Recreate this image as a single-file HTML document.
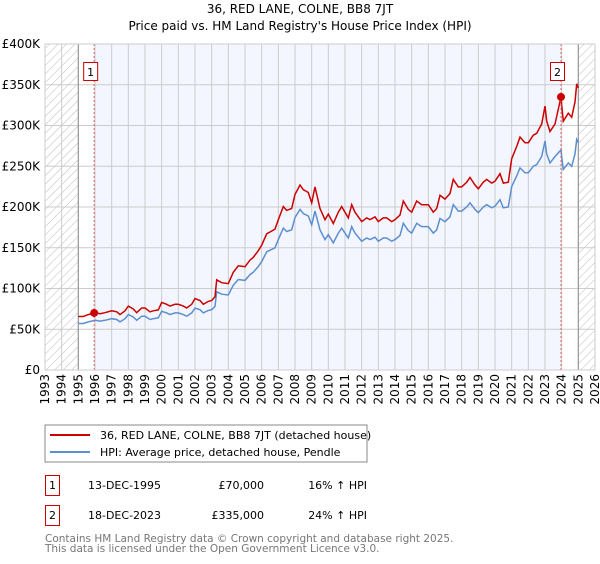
<!DOCTYPE html>
<html><head><meta charset="utf-8"><style>
body{margin:0;background:#fff;font-family:"DejaVu Sans","Liberation Sans",sans-serif;}
svg text{font-family:"DejaVu Sans","Liberation Sans",sans-serif;}
</style></head><body>
<svg id="chart" width="600" height="560" xmlns="http://www.w3.org/2000/svg">
<defs>
<pattern id="hatch" width="6" height="6" patternUnits="userSpaceOnUse" patternTransform="rotate(45)">
<line x1="0" y1="0" x2="0" y2="6" stroke="#bbb" stroke-width="1"/></pattern>
</defs>
<text x="300" y="13" text-anchor="middle" font-size="12" fill="#000">36, RED LANE, COLNE, BB8 7JT</text>
<text x="300" y="30" text-anchor="middle" font-size="12" fill="#000">Price paid vs. HM Land Registry's House Price Index (HPI)</text>
<g id="plot"></g>
<rect x="45" y="425" width="322" height="37" fill="#fff" stroke="#888"/>
<line x1="50" y1="435" x2="90" y2="435" stroke="#cc0000" stroke-width="2"/>
<text x="100" y="439" font-size="11">36, RED LANE, COLNE, BB8 7JT (detached house)</text>
<line x1="50" y1="452" x2="90" y2="452" stroke="#5b8fd0" stroke-width="2"/>
<text x="100" y="456" font-size="11">HPI: Average price, detached house, Pendle</text>
<g font-size="11">
<rect x="45.5" y="475.5" width="14" height="20" fill="none" stroke="#cc0000"/>
<text x="52.5" y="489" text-anchor="middle">1</text>
<text x="88" y="489">13-DEC-1995</text>
<text x="264" y="489" text-anchor="end">£70,000</text>
<text x="367" y="489" text-anchor="end">16% ↑ HPI</text>
<rect x="45.5" y="505.5" width="14" height="20" fill="none" stroke="#cc0000"/>
<text x="52.5" y="519" text-anchor="middle">2</text>
<text x="88" y="519">18-DEC-2023</text>
<text x="264" y="519" text-anchor="end">£335,000</text>
<text x="367" y="519" text-anchor="end">24% ↑ HPI</text>
</g>
<text x="45" y="542" font-size="10.5" fill="#777">Contains HM Land Registry data © Crown copyright and database right 2025.</text>
<text x="45" y="552" font-size="10.5" fill="#777">This data is licensed under the Open Government Licence v3.0.</text>
</svg>
<script>
const hpiDates=[1995.0,1995.3,1995.6,1996.0,1996.3,1996.6,1997.0,1997.3,1997.5,1997.8,1998.0,1998.3,1998.5,1998.8,1999.0,1999.3,1999.5,1999.8,2000.0,2000.3,2000.5,2000.8,2001.0,2001.3,2001.5,2001.8,2002.0,2002.3,2002.5,2002.8,2003.0,2003.2,2003.3,2003.6,2004.0,2004.3,2004.6,2005.0,2005.3,2005.5,2005.8,2006.0,2006.3,2006.5,2006.8,2007.0,2007.3,2007.5,2007.8,2008.0,2008.3,2008.5,2008.8,2009.0,2009.2,2009.5,2009.8,2010.0,2010.3,2010.6,2010.8,2011.2,2011.4,2011.6,2012.0,2012.3,2012.5,2012.8,2013.0,2013.3,2013.5,2013.8,2014.0,2014.3,2014.5,2014.8,2015.0,2015.3,2015.6,2016.0,2016.3,2016.5,2016.7,2017.0,2017.3,2017.5,2017.8,2018.0,2018.3,2018.5,2018.8,2019.0,2019.3,2019.5,2019.8,2020.0,2020.3,2020.5,2020.8,2021.0,2021.3,2021.5,2021.8,2022.0,2022.3,2022.5,2022.8,2023.0,2023.1,2023.3,2023.6,2023.96,2024.0,2024.1,2024.4,2024.6,2024.8,2024.9,2025.0];
const hpiValues=[57,57,59,61,60,61,63,62,59,63,68,65,61,66,66,62,63,64,72,70,68,70,70,68,66,70,76,74,70,73,74,78,96,93,92,104,111,110,117,120,127,133,145,147,150,160,174,170,172,187,197,192,189,178,195,172,160,166,156,168,174,162,176,168,158,162,160,163,158,162,162,158,160,165,180,171,168,180,176,176,168,172,186,182,188,203,195,195,200,205,197,193,200,203,199,201,209,199,200,225,238,248,242,242,250,252,262,281,265,254,262,270,262,246,254,250,265,283,279];
const sales=[{d:1995.95,p:70},{d:2023.96,p:335}];
const yTicks=[0,50,100,150,200,250,300,350,400];
const yTickLabels=["£0","£50K","£100K","£150K","£200K","£250K","£300K","£350K","£400K"];
const xYears=[1993,1994,1995,1996,1997,1998,1999,2000,2001,2002,2003,2004,2005,2006,2007,2008,2009,2010,2011,2012,2013,2014,2015,2016,2017,2018,2019,2020,2021,2022,2023,2024,2025,2026];

const NS="http://www.w3.org/2000/svg";
const X0=45,X1=595,Y0=370,Y1=44;
const x=v=>X0+(v-1993)/(2026-1993)*(X1-X0);
const y=v=>Y0-v/400*(Y0-Y1);
const g=document.getElementById('plot');
function mk(t,a){const e=document.createElementNS(NS,t);for(const k in a)e.setAttribute(k,a[k]);g.appendChild(e);return e;}
let e;
e=mk('rect',{x:x(1995.95),y:Y1,width:x(sales[1].d)-x(1995.95),height:Y0-Y1,fill:'#f3f6fe'});


e=mk('rect',{x:X0,y:Y1,width:x(1995)-X0,height:Y0-Y1,fill:'url(#hatch)'});


e=mk('rect',{x:x(2025),y:Y1,width:X1-x(2025),height:Y0-Y1,fill:'url(#hatch)'});


yTicks.forEach((t,i)=>{
 e=mk('line',{x1:X0,x2:X1,y1:y(t),y2:y(t),stroke:'#ccc','stroke-width':1});
 
 
 e=mk('text',{x:40,y:y(t)+4,'text-anchor':'end','font-size':12});
 e.textContent=yTickLabels[i];
 
 
});
xYears.forEach(yr=>{
 e=mk('line',{x1:x(yr),x2:x(yr),y1:Y1,y2:Y0,stroke:'#ccc','stroke-width':1});
 
 
 e=mk('text',{x:0,y:0,'text-anchor':'end','font-size':12,transform:`translate(${x(yr)+4},374) rotate(-90)`});
 e.textContent=yr;
 
 
});
[1995,2025].forEach(yr=>{
 e=mk('line',{x1:x(yr),x2:x(yr),y1:Y1,y2:Y0,stroke:'#999','stroke-width':1.2});
 
 
});
function hpiAt(d){for(let i=1;i<hpiDates.length;i++){if(d<=hpiDates[i]){const t=(d-hpiDates[i-1])/(hpiDates[i]-hpiDates[i-1]);return hpiValues[i-1]+t*(hpiValues[i]-hpiValues[i-1]);}}return hpiValues[hpiValues.length-1];}
const ratio1=sales[0].p/hpiAt(sales[0].d), ratio2=sales[1].p/hpiAt(sales[1].d);
const redPts=hpiDates.map((d,i)=>{const r=d<sales[1].d?ratio1:ratio2;return x(d).toFixed(1)+','+y(hpiValues[i]*r).toFixed(1);});
const bluePts=hpiDates.map((d,i)=>x(d).toFixed(1)+','+y(hpiValues[i]).toFixed(1));
e=mk('polyline',{points:bluePts.join(' '),fill:'none',stroke:'#5b8fd0','stroke-width':1.5});


e=mk('polyline',{points:redPts.join(' '),fill:'none',stroke:'#cc0000','stroke-width':1.5});


sales.forEach((s,i)=>{
 e=mk('line',{x1:x(s.d),x2:x(s.d),y1:Y1,y2:Y0,stroke:'#e06060','stroke-width':1,'stroke-dasharray':'2,2'});
 
 
 e=mk('circle',{cx:x(s.d),cy:y(s.p),r:4,fill:'#cc0000'});
 
 
 e=mk('rect',{x:x(s.d)-10.5,y:62.5,width:14,height:18,fill:'#fff',stroke:'#cc0000'});
 
 
 e=mk('text',{x:x(s.d)-3.5,y:76,'text-anchor':'middle','font-size':11});
 e.textContent=String(i+1);
 
 
});
e=mk('rect',{x:X0,y:Y1,width:X1-X0,height:Y0-Y1,fill:'none',stroke:'#ccc'});


</script>
</body></html>
